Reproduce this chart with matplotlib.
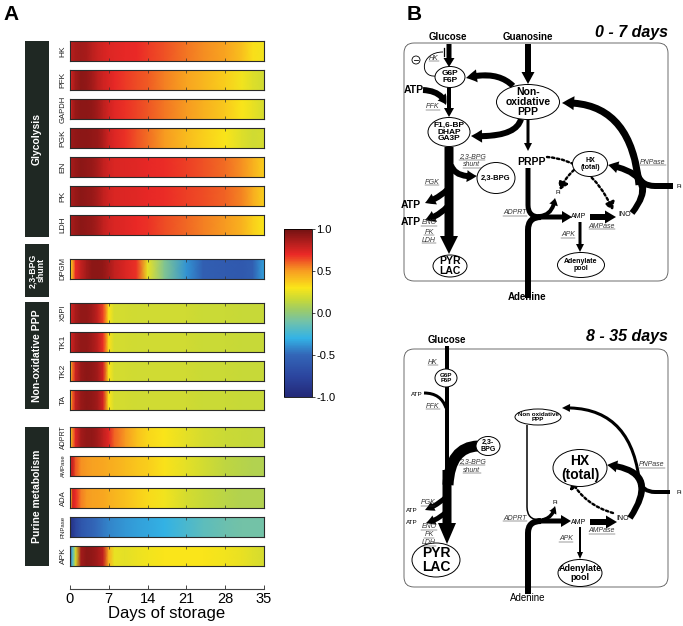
import matplotlib
matplotlib.use("Agg")
import matplotlib.pyplot as plt
import numpy as np
from matplotlib.colors import LinearSegmentedColormap, Normalize
from matplotlib.cm import ScalarMappable
from matplotlib.patches import Ellipse, FancyArrowPatch, FancyBboxPatch, PathPatch, Rectangle, Circle
from matplotlib.path import Path

plt.rcParams['font.family'] = ['Liberation Sans', 'DejaVu Sans']
plt.rcParams['axes.unicode_minus'] = False

W, H = 683, 626
PX = 72 / 100  # points per pixel at dpi 100

# ---- panel A data: correlation along storage days ----
days = [0, 0.5, 1, 2, 3, 4, 5, 6, 7, 8, 10, 12, 14, 17, 21, 24, 28, 31, 33, 35]

hk = [0.80, 0.84, 0.86, 0.88, 0.86, 0.82, 0.78, 0.75, 0.73, 0.72, 0.71, 0.70, 0.67, 0.63, 0.57, 0.53, 0.48, 0.40, 0.32, 0.28]
pfk = [0.72, 0.82, 0.88, 0.93, 0.92, 0.88, 0.82, 0.77, 0.74, 0.71, 0.67, 0.64, 0.61, 0.55, 0.48, 0.43, 0.36, 0.28, 0.22, 0.18]
gapdh = [0.72, 0.85, 0.90, 0.93, 0.93, 0.92, 0.88, 0.82, 0.76, 0.72, 0.68, 0.65, 0.62, 0.57, 0.50, 0.45, 0.38, 0.30, 0.25, 0.20]
pgk = [0.88, 0.90, 0.92, 0.93, 0.93, 0.92, 0.90, 0.85, 0.77, 0.73, 0.68, 0.63, 0.58, 0.50, 0.42, 0.36, 0.30, 0.22, 0.18, 0.20]
en = [0.85, 0.88, 0.90, 0.93, 0.92, 0.90, 0.86, 0.80, 0.76, 0.74, 0.73, 0.72, 0.71, 0.69, 0.66, 0.63, 0.58, 0.52, 0.45, 0.36]
pk = [0.85, 0.88, 0.90, 0.93, 0.92, 0.90, 0.86, 0.80, 0.76, 0.74, 0.73, 0.72, 0.71, 0.69, 0.66, 0.64, 0.60, 0.54, 0.46, 0.36]
ldh = [0.85, 0.88, 0.90, 0.93, 0.92, 0.90, 0.86, 0.80, 0.76, 0.74, 0.72, 0.70, 0.68, 0.64, 0.59, 0.55, 0.50, 0.44, 0.36, 0.30]
dpgm = [0.30, 0.50, 0.70, 0.80, 0.88, 0.93, 0.93, 0.92, 0.86, 0.80, 0.74, 0.68, 0.25, -0.05, -0.38, -0.55, -0.58, -0.60, -0.55, -0.35]
x5pi = [0.72, 0.80, 0.86, 0.92, 0.92, 0.88, 0.80, 0.65, 0.30, 0.20, 0.19, 0.18, 0.18, 0.18, 0.18, 0.17, 0.17, 0.16, 0.16, 0.16]
tk1 = [0.72, 0.80, 0.86, 0.92, 0.92, 0.88, 0.82, 0.68, 0.32, 0.20, 0.19, 0.18, 0.18, 0.18, 0.18, 0.17, 0.17, 0.16, 0.16, 0.16]
tk2 = [0.35, 0.60, 0.78, 0.90, 0.93, 0.92, 0.88, 0.75, 0.30, 0.20, 0.19, 0.18, 0.18, 0.18, 0.18, 0.17, 0.17, 0.16, 0.16, 0.16]
ta = [0.35, 0.62, 0.80, 0.90, 0.93, 0.92, 0.88, 0.75, 0.30, 0.20, 0.19, 0.18, 0.18, 0.18, 0.18, 0.17, 0.17, 0.16, 0.16, 0.16]
adprt = [0.30, 0.55, 0.72, 0.88, 0.92, 0.92, 0.88, 0.80, 0.72, 0.60, 0.50, 0.40, 0.34, 0.30, 0.24, 0.20, 0.17, 0.16, 0.15, 0.15]
ampase = [0.75, 0.78, 0.62, 0.52, 0.50, 0.49, 0.48, 0.47, 0.46, 0.45, 0.42, 0.39, 0.36, 0.31, 0.24, 0.19, 0.14, 0.11, 0.10, 0.10]
ada = [0.30, 0.75, 0.70, 0.55, 0.50, 0.49, 0.48, 0.47, 0.45, 0.43, 0.40, 0.36, 0.33, 0.28, 0.20, 0.16, 0.12, 0.10, 0.10, 0.10]
pnpase = [-0.92, -0.85, -0.75, -0.62, -0.56, -0.52, -0.48, -0.45, -0.42, -0.40, -0.37, -0.35, -0.33, -0.30, -0.22, -0.17, -0.12, -0.10, -0.10, -0.10]
apk = [-0.50, -0.20, 0.20, 0.88, 0.93, 0.92, 0.88, 0.80, 0.45, 0.25, 0.24, 0.26, 0.28, 0.30, 0.30, 0.30, 0.28, 0.25, 0.22, 0.20]

enzymes = ["HK", "PFK", "GAPDH", "PGK", "EN", "PK", "LDH", "DPGM", "X5PI", "TK1", "TK2", "TA",
           "ADPRT", "AMPase", "ADA", "PNPase", "APK"]
heat = [hk, pfk, gapdh, pgk, en, pk, ldh, dpgm, x5pi, tk1, tk2, ta, adprt, ampase, ada, pnpase, apk]
groups = ["Glycolysis", "2,3-BPG\nshunt", "Non-oxidative PPP", "Purine metabolism"]
day_ticks = [0, 7, 14, 21, 28, 35]

# layout (pixels)
strip_top = [41, 70, 99, 128, 157, 186, 215, 259, 303, 332, 361, 390, 427, 456, 488, 517, 546]
group_span = [(41, 237), (244, 297), (302, 409), (427, 566)]
label_fs = [6, 6, 5.5, 6, 6, 6, 6, 5.5, 5.5, 6, 6, 6, 5, 4.3, 5.5, 4.3, 6]

cmap = LinearSegmentedColormap.from_list("muted_jet", [
    (0.00, (0.14, 0.16, 0.47)), (0.12, (0.17, 0.27, 0.62)), (0.25, (0.20, 0.40, 0.72)),
    (0.35, (0.20, 0.70, 0.90)), (0.45, (0.45, 0.76, 0.66)), (0.52, (0.62, 0.80, 0.40)),
    (0.58, (0.78, 0.85, 0.22)), (0.65, (0.98, 0.90, 0.10)), (0.75, (0.97, 0.62, 0.13)),
    (0.85, (0.92, 0.16, 0.15)), (1.00, (0.45, 0.07, 0.07))])


def rect(x, y, w, h):
    return [x / W, 1 - (y + h) / H, w / W, h / H]


fig = plt.figure(figsize=(W / 100, H / 100), dpi=100)

X, Y = np.meshgrid(days, [0, 1])
for name, vals, top in zip(enzymes, heat, strip_top):
    ax = fig.add_axes(rect(70, top, 194, 20))
    ax.pcolormesh(X, Y, np.vstack([vals, vals]), shading='gouraud', cmap=cmap, vmin=-1, vmax=1)
    ax.set_xlim(0, 35)
    ax.set_ylim(0, 1)
    ax.set_xticks([7, 14, 21, 28])
    ax.set_yticks([])
    ax.tick_params(axis='x', direction='in', length=2, width=0.5, top=True, labelbottom=False, color='#333333')
    for s in ax.spines.values():
        s.set_linewidth(0.8)
        s.set_color('#2a2a2a')

# shared day axis
axd = fig.add_axes(rect(70, 588, 194, 1))
axd.set_xlim(0, 35)
axd.set_xticks(day_ticks)
axd.set_yticks([])
for s in ['top', 'left', 'right']:
    axd.spines[s].set_visible(False)
axd.patch.set_alpha(0)
axd.spines['bottom'].set_linewidth(0.8)
axd.spines['bottom'].set_color('#444444')
axd.tick_params(axis='x', direction='in', length=3, width=0.7, labelsize=10.5, pad=2, color='#444444')
axd.set_xlabel("Days of storage", fontsize=12, labelpad=0)

# colorbar
cax = fig.add_axes(rect(284, 229, 28, 168))
cb = fig.colorbar(ScalarMappable(Normalize(-1, 1), cmap), cax=cax, ticks=[-1, -0.5, 0, 0.5, 1], format='%.1f')
cb.outline.set_linewidth(0.6)
cax.tick_params(labelsize=8, length=2, width=0.5, pad=1)

# overlay for labels and pathway diagram (pixel coordinates)
dg = fig.add_axes([0, 0, 1, 1])
dg.set_xlim(0, W)
dg.set_ylim(H, 0)
dg.axis('off')

dg.text(3, 15, "A", fontsize=15, fontweight='bold', va='center')
dg.text(407, 15, "B", fontsize=15, fontweight='bold', va='center')

for name, top, fs in zip(enzymes, strip_top, label_fs):
    dg.text(63, top + 10, name, rotation=90, ha='center', va='center', fontsize=fs, color='#222222')

for g, (y0, y1) in zip(groups, group_span):
    dg.add_patch(Rectangle((25, y0), 24, y1 - y0, fc='#1f2823', ec='none'))
    fs = 6.3 if '\n' in g else 7.5
    dg.text(37, (y0 + y1) / 2, g, rotation=90, ha='center', va='center', color='white',
            fontsize=fs, fontweight='bold', linespacing=0.9)

underlined = []


def txt(x, y, s, fs, bold=False, italic=False, ha='center', color='black', ul=False):
    t = dg.text(x, y, s, fontsize=fs, fontweight='bold' if bold else 'normal',
                style='italic' if italic else 'normal', ha=ha, va='center', color=color,
                linespacing=1.0, zorder=6)
    if ul:
        underlined.append(t)
    return t


def enz(x, y, s):
    txt(x, y, s, 5.0, italic=True, color='#333333', ul=True)


def ell(x, y, w, h, s, fs):
    dg.add_patch(Ellipse((x, y), w, h, fc='white', ec='black', lw=0.7, zorder=4))
    txt(x, y, s, fs, bold=True)


def arr(p0, c, p1, w, hw, hl, z=3):
    if c is None:
        c = ((p0[0] + p1[0]) / 2, (p0[1] + p1[1]) / 2)
    path = Path([p0, c, p1], [Path.MOVETO, Path.CURVE3, Path.CURVE3])
    dg.add_patch(FancyArrowPatch(path=path, arrowstyle=f"simple,head_width={hw},head_length={hl},tail_width={w}",
                                 mutation_scale=PX, fc='black', ec='none', zorder=z))


def dotted(p0, c, p1):
    path = Path([p0, c, p1], [Path.MOVETO, Path.CURVE3, Path.CURVE3])
    dg.add_patch(FancyArrowPatch(path=path, arrowstyle="-|>,head_width=4,head_length=6",
                                 mutation_scale=PX, fc='black', ec='black', lw=2.4 * PX,
                                 linestyle=(0, (1, 1.1)), zorder=3))


def line(pts, codes, w):
    dg.add_patch(PathPatch(Path(pts, codes), fc='none', ec='black', lw=w * PX, capstyle='butt', zorder=2))


M, L, C3, C4 = Path.MOVETO, Path.LINETO, Path.CURVE3, Path.CURVE4

# ---------- 0 - 7 days ----------
dg.add_patch(FancyBboxPatch((404, 43), 264, 238, boxstyle='round,pad=0,rounding_size=10',
                            fc='none', ec='#555555', lw=0.6))
txt(668, 33, "0 - 7 days", 11.5, bold=True, italic=True, ha='right')
txt(448, 37, "Glucose", 7, bold=True)
txt(528, 37, "Guanosine", 7, bold=True)
txt(414, 90, "ATP", 7.5, bold=True)
txt(532, 162, "PRPP", 7.5, bold=True)
txt(411, 205, "ATP", 7.5, bold=True)
txt(411, 222, "ATP", 7.5, bold=True)
txt(527, 297, "Adenine", 7, bold=True)
txt(679, 187, "Pi", 4.5)
txt(558, 193, "Pi", 4.5)
txt(579, 217, "AMP", 5)
txt(625, 214, "INO", 5)
for x, y, s in [(434, 58, "HK"), (433, 107, "PFK"), (472, 157, "2,3-BPG"), (472, 165, "shunt"),
                (432, 182, "PGK"), (429, 223, "ENO"), (429, 232, "PK"), (429, 240, "LDH"),
                (515, 213, "ADPRT"), (602, 226, "AMPase"), (568, 235, "APK"), (653, 162, "PNPase")]:
    enz(x, y, s)

dg.add_patch(Circle((416, 60), 4, fc='white', ec='black', lw=0.6))
dg.plot([414, 418], [60, 60], color='black', lw=0.6)
line([(436, 76), (419, 78), (420, 52), (443, 52)], [M, C4, C4, C4], 0.9)
dg.plot([444, 444], [48, 56], color='black', lw=0.9)

arr((449, 44), None, (449, 67), 5, 11, 9)
arr((528, 44), None, (528, 84), 6, 13, 12)
arr((449, 87), None, (449, 117), 4, 10, 9)
arr((423, 90), (442, 91), (446, 105), 6, 11, 9)
arr((513, 86), (497, 70), (466, 78), 6, 13, 11)
arr((521, 119), (516, 138), (471, 136), 6, 13, 11)
arr((528, 120), None, (528, 151), 3, 8, 8)
arr((449, 147), None, (449, 254), 9, 18, 18)
arr((451, 165), (455, 178), (477, 176), 6, 12, 10)
arr((447, 190), (439, 198), (425, 203), 6, 12, 10)
arr((447, 207), (439, 216), (425, 220), 6, 12, 10)
line([(528, 168), (528, 205), (528, 217), (540, 217)], [M, L, C3, C3], 5)
line([(528, 298), (528, 230), (528, 217), (541, 217)], [M, L, C3, C3], 6)
arr((538, 217), None, (572, 217), 5, 12, 10)
arr((540, 216), (553, 215), (555, 198), 4, 9, 7)
arr((590, 217), None, (616, 217), 6, 13, 11)
arr((580, 222), None, (580, 252), 3, 8, 8)
arr((632, 213), (662, 175), (608, 165), 6, 12, 10)
arr((639, 185), (631, 100), (562, 103), 7, 14, 12)
line([(673, 186), (655, 186), (640, 186), (637, 172)], [M, L, C3, C3], 6)
dotted((547, 157), (590, 160), (613, 210))
dotted((574, 170), (565, 178), (560, 190))

ell(450, 77, 30, 21, "G6P\nF6P", 6)
ell(449, 132, 42, 29, "F1,6-BP\nDHAP\nGA3P", 6)
ell(528, 102, 63, 35, "Non-\noxidative\nPPP", 7.5)
ell(496, 178, 38, 31, "2,3-BPG", 5.5)
ell(590, 164, 35, 25, "HX\n(total)", 5)
ell(581, 265, 47, 25, "Adenylate\npool", 5)
ell(450, 266, 34, 22, "PYR\nLAC", 7.5)

# ---------- 8 - 35 days ----------
dg.add_patch(FancyBboxPatch((404, 349), 264, 238, boxstyle='round,pad=0,rounding_size=10',
                            fc='none', ec='#555555', lw=0.6))
txt(668, 336, "8 - 35 days", 11.5, bold=True, italic=True, ha='right')
txt(447, 340, "Glucose", 7, bold=True)
txt(417, 395, "ATP", 4.5)
txt(412, 510, "ATP", 4.5)
txt(412, 523, "ATP", 4.5)
txt(528, 598, "Adenine", 7)
txt(555, 502, "Pi", 4.5)
txt(679, 492, "Pi", 4.5)
txt(579, 522, "AMP", 5)
txt(623, 519, "INO", 5)
for x, y, s in [(433, 362, "HK"), (433, 406, "PFK"), (472, 462, "2,3-BPG"), (472, 470, "shunt"),
                (428, 503, "PGK"), (429, 527, "ENO"), (429, 535, "PK"), (429, 543, "LDH"),
                (515, 518, "ADPRT"), (602, 531, "AMPase"), (566, 539, "APK"), (652, 465, "PNPase")]:
    enz(x, y, s)

line([(447, 346), (447, 475)], [M, L], 4)
line([(424, 393), (441, 393), (446, 408)], [M, C3, C3], 3)
line([(478, 446), (450, 447), (448, 485)], [M, C3, C3], 11)
arr((447, 470), None, (447, 544), 9, 18, 21)
arr((446, 497), (438, 505), (425, 510), 5, 10, 9)
arr((446, 512), (438, 520), (426, 523), 5, 10, 9)
line([(527, 425), (527, 507), (527, 520), (540, 520)], [M, L, C3, C3], 1.5)
line([(528, 594), (528, 533), (528, 521), (541, 521)], [M, L, C3, C3], 6)
arr((538, 521), None, (571, 521), 5, 12, 10)
arr((542, 520), (553, 518), (555, 506), 3.5, 8, 7)
arr((590, 522), None, (617, 522), 6, 13, 11)
arr((580, 527), None, (580, 559), 2, 6, 7)
arr((630, 518), (662, 470), (607, 465), 6, 12, 10)
arr((640, 487), (633, 405), (562, 408), 3, 8, 8)
line([(670, 492), (655, 492), (642, 492), (640, 480)], [M, L, C3, C3], 4)
dotted((613, 513), (585, 505), (571, 480))

ell(446, 378, 22, 18, "G6P\nF6P", 4.5)
ell(538, 417, 46, 16, "Non oxidative\nPPP", 4.5)
ell(488, 446, 24, 19, "2,3-\nBPG", 5)
ell(436, 560, 48, 34, "PYR\nLAC", 10)
ell(580, 468, 54, 37, "HX\n(total)", 10)
ell(580, 573, 44, 27, "Adenylate\npool", 6.5)

# underline enzyme names
fig.canvas.draw()
rend = fig.canvas.get_renderer()
inv = dg.transData.inverted()
for t in underlined:
    bb = t.get_window_extent(rend)
    (x0, y0), (x1, _) = inv.transform([(bb.x0, bb.y0 + 0.5), (bb.x1, bb.y0 + 0.5)])
    dg.plot([x0, x1], [y0, y0], color='#333333', lw=0.35, zorder=6)

fig.savefig("out.png", dpi=100)
